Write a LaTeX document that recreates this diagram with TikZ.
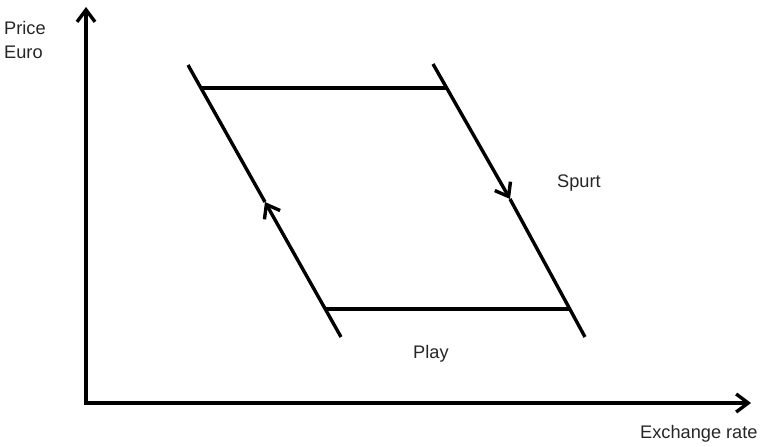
\documentclass[tikz,border=0pt]{standalone}
\usepackage{fontspec}
\setmainfont{Liberation Sans}
\usetikzlibrary{arrows.meta}
\begin{document}
\begin{tikzpicture}[x=1pt,y=-1pt,
  ln/.style={line width=3.4pt,line cap=butt},
  arr/.style={ln,-{Straight Barb[length=12pt,width=18pt,line width=3.4pt]}},
  lbl/.style={font=\fontsize{18.2pt}{22pt}\selectfont,inner sep=0pt,anchor=west,text=black!85}]
\useasboundingbox (0,0) rectangle (764,447);
% axes
\coordinate (O) at (86,403);
\coordinate (Ytop) at (86,7);
\coordinate (Xend) at (751,403);
\draw[arr] (O) -- (Ytop);
\draw[arr] ([xshift=-1.7pt]O) -- (Xend);
% parallelogram
\coordinate (Ltop) at (188,65);
\coordinate (LA) at (265,202);
\coordinate (Lbot) at (341,337);
\coordinate (Rtop) at (433,64);
\coordinate (RA) at (510,199);
\coordinate (Rbot) at (585,337);
\coordinate (T1) at (202,88);
\coordinate (T2) at (446,88);
\coordinate (B1) at (325,309);
\coordinate (B2) at (570,309);
\draw[ln] (Ltop) -- (LA);
\draw[arr] (Lbot) -- (LA);
\draw[arr] (Rtop) -- (RA);
\draw[ln] (RA) -- (Rbot);
\draw[ln] (T1) -- (T2);
\draw[ln] (B1) -- (B2);
% labels
\node[lbl] (price) at (4,28) {Price};
\node[lbl] (euro) at (4,52) {Euro};
\node[lbl] (spurt) at (557,183) {Spurt};
\node[lbl] (play) at (413,354) {Play};
\node[lbl] (xr) at (640,434) {Exchange rate};
\end{tikzpicture}
\end{document}
